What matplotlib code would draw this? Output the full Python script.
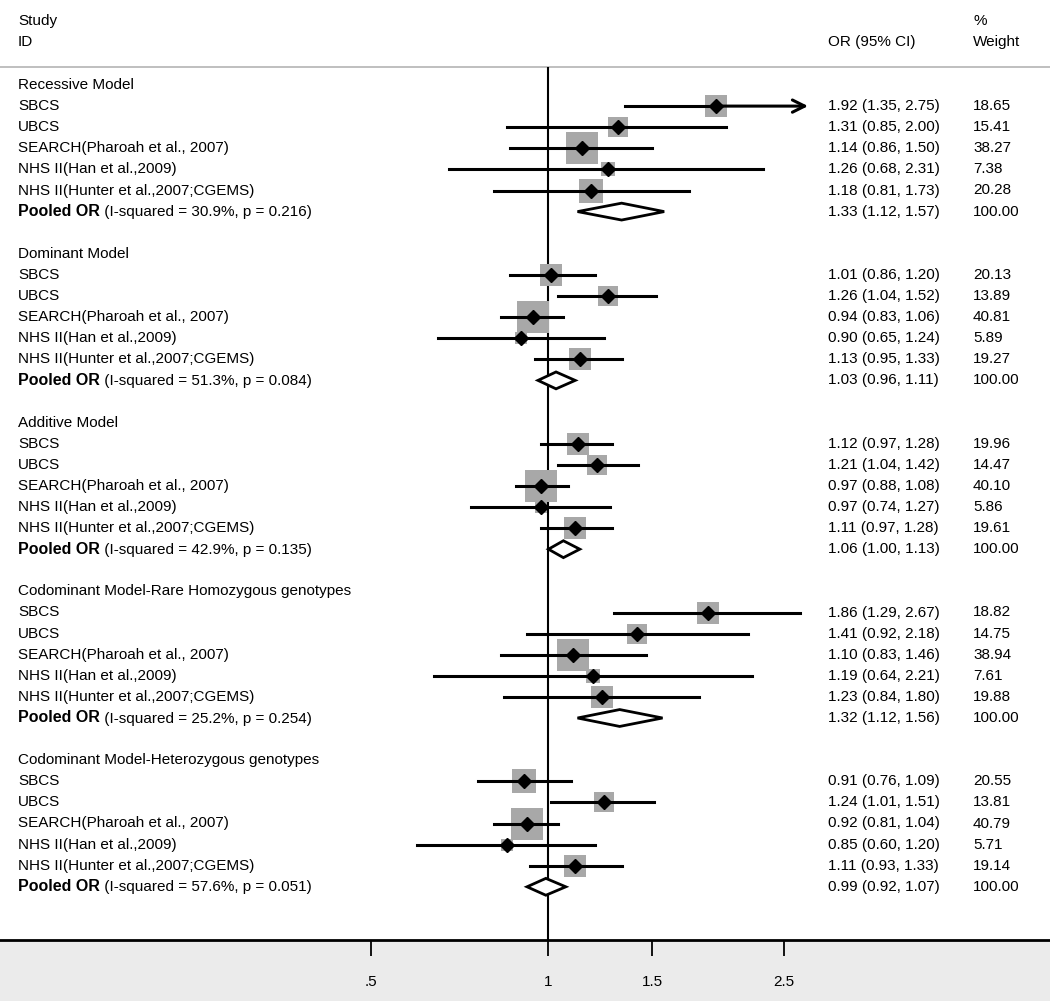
#!/usr/bin/env python3
import numpy as np
import matplotlib.pyplot as plt
from matplotlib.patches import Polygon

plt.rcParams['font.family'] = ['Liberation Sans', 'DejaVu Sans']

# --- data ---
groups = ["Recessive Model", "Dominant Model", "Additive Model",
          "Codominant Model-Rare Homozygous genotypes",
          "Codominant Model-Heterozygous genotypes"]
studies = ["SBCS", "UBCS", "SEARCH(Pharoah et al., 2007)",
           "NHS II(Han et al.,2009)", "NHS II(Hunter et al.,2007;CGEMS)"]

or_est = [[1.92, 1.31, 1.14, 1.26, 1.18],
          [1.01, 1.26, 0.94, 0.90, 1.13],
          [1.12, 1.21, 0.97, 0.97, 1.11],
          [1.86, 1.41, 1.10, 1.19, 1.23],
          [0.91, 1.24, 0.92, 0.85, 1.11]]
or_lo = [[1.35, 0.85, 0.86, 0.68, 0.81],
         [0.86, 1.04, 0.83, 0.65, 0.95],
         [0.97, 1.04, 0.88, 0.74, 0.97],
         [1.29, 0.92, 0.83, 0.64, 0.84],
         [0.76, 1.01, 0.81, 0.60, 0.93]]
or_hi = [[2.75, 2.00, 1.50, 2.31, 1.73],
         [1.20, 1.52, 1.06, 1.24, 1.33],
         [1.28, 1.42, 1.08, 1.27, 1.28],
         [2.67, 2.18, 1.46, 2.21, 1.80],
         [1.09, 1.51, 1.04, 1.20, 1.33]]
weights = [[18.65, 15.41, 38.27, 7.38, 20.28],
           [20.13, 13.89, 40.81, 5.89, 19.27],
           [19.96, 14.47, 40.10, 5.86, 19.61],
           [18.82, 14.75, 38.94, 7.61, 19.88],
           [20.55, 13.81, 40.79, 5.71, 19.14]]

pooled_est = [1.33, 1.03, 1.06, 1.32, 0.99]
pooled_lo = [1.12, 0.96, 1.00, 1.12, 0.92]
pooled_hi = [1.57, 1.11, 1.13, 1.56, 1.07]
i_squared = ["30.9%", "51.3%", "42.9%", "25.2%", "57.6%"]
p_het = ["0.216", "0.084", "0.135", "0.254", "0.051"]

xticks = [0.5, 1, 1.5, 2.5]
xticklabels = [".5", "1", "1.5", "2.5"]
arrow_cut = 2.7   # CIs reaching past this get an arrow

# --- figure ---
W, H = 1050, 1001
fig = plt.figure(figsize=(W / 100, H / 100), dpi=100, facecolor='#ebebeb')
ax = fig.add_axes([0, 61 / H, 1, 940 / H])
ax.set_facecolor('white')

row_h = 21.1
y_top = -85 / row_h
y_bot = (940 - 85) / row_h
ax.set_xscale('log')
ax.set_xlim(0.118, 7.06)
ax.set_ylim(y_bot, y_top)

fs = 11
lab = ax.get_yaxis_transform()
x_lab, x_or, x_w = 18 / W, 828 / W, 973 / W

# header
ax.text(x_lab, -3.03, "Study", transform=lab, va='center', fontsize=fs)
ax.text(x_lab, -2.03, "ID", transform=lab, va='center', fontsize=fs)
ax.text(x_or, -2.03, "OR (95% CI)", transform=lab, va='center', fontsize=fs)
ax.text(x_w, -3.03, "%", transform=lab, va='center', fontsize=fs)
ax.text(x_w, -2.03, "Weight", transform=lab, va='center', fontsize=fs)
hdr_y = (67 - 85) / row_h
ax.axhline(hdr_y, color='#b4b4b4', lw=1.2)
ax.vlines(1, hdr_y, y_bot, color='black', lw=1.5)

for g, name in enumerate(groups):
    base = g * 8
    ax.text(x_lab, base, name, transform=lab, va='center', fontsize=fs)
    for s, study in enumerate(studies):
        y = base + 1 + s
        est, lo, hi, w = or_est[g][s], or_lo[g][s], or_hi[g][s], weights[g][s]
        ax.text(x_lab, y, study, transform=lab, va='center', fontsize=fs)
        ax.scatter(est, y, s=13.6 * w, marker='s', color='#a8a8a8', zorder=2, linewidths=0)
        if hi >= arrow_cut:
            ax.plot([lo, est], [y, y], color='black', lw=2.2, zorder=3)
            ax.annotate('', xy=(hi, y), xytext=(est, y),
                        arrowprops=dict(arrowstyle='->', lw=2.2, color='black',
                                        mutation_scale=22, shrinkA=0, shrinkB=0),
                        zorder=3)
        else:
            ax.plot([lo, hi], [y, y], color='black', lw=2.2, zorder=3)
        ax.plot(est, y, marker='D', ms=7, color='black', zorder=4)
        ax.text(x_or, y, f"{est:.2f} ({lo:.2f}, {hi:.2f})", transform=lab,
                va='center', fontsize=fs)
        ax.text(x_w, y, f"{w:.2f}", transform=lab, va='center', fontsize=fs)

    y = base + 6
    t1 = ax.text(x_lab, y, "Pooled OR", transform=lab, va='center',
                 fontsize=fs + 0.5, fontweight='bold')
    ax.annotate(f" (I-squared = {i_squared[g]}, p = {p_het[g]})", xy=(1, 0),
                xycoords=t1, va='bottom', ha='left', fontsize=fs)
    pe, pl, ph = pooled_est[g], pooled_lo[g], pooled_hi[g]
    dh = 0.4
    ax.add_patch(Polygon([(pl, y), (pe, y - dh), (ph, y), (pe, y + dh)],
                         closed=True, facecolor='white', edgecolor='black',
                         lw=2, zorder=3))
    ax.text(x_or, y, f"{pe:.2f} ({pl:.2f}, {ph:.2f})", transform=lab,
            va='center', fontsize=fs)
    ax.text(x_w, y, "100.00", transform=lab, va='center', fontsize=fs)

# axis styling
for side in ['top', 'left', 'right']:
    ax.spines[side].set_visible(False)
ax.spines['bottom'].set_linewidth(2)
ax.set_yticks([])
ax.set_xticks(xticks)
ax.set_xticklabels(xticklabels, fontsize=fs)
ax.xaxis.set_minor_locator(plt.NullLocator())
ax.tick_params(axis='x', direction='out', length=11.5, width=1.3, pad=14)

fig.savefig("out.png", dpi=100, facecolor=fig.get_facecolor())
